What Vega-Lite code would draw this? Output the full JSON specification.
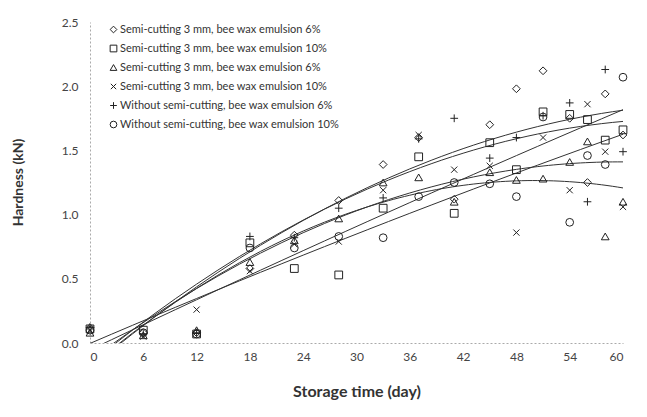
{
  "$schema": "https://vega.github.io/schema/vega-lite/v6.json",
  "width": 533,
  "height": 321,
  "autosize": {"type": "none"},
  "padding": {"left": 90, "top": 22, "right": 24, "bottom": 74},
  "background": "white",
  "config": {
    "view": {"stroke": null},
    "font": "Lato",
    "axis": {"labelFont": "Lato", "titleFont": "Lato", "labelColor": "#444", "titleColor": "#333", "grid": false, "ticks": false, "domainDash": [2, 2], "domainColor": "#aaa"}
  },
  "data": {
    "values": [
      {"day": 0, "series": "A", "hardness": 0.12}, {"day": 6, "series": "A", "hardness": 0.08}, {"day": 12, "series": "A", "hardness": 0.08}, {"day": 18, "series": "A", "hardness": 0.58}, {"day": 23, "series": "A", "hardness": 0.84}, {"day": 28, "series": "A", "hardness": 1.11}, {"day": 33, "series": "A", "hardness": 1.39}, {"day": 37, "series": "A", "hardness": 1.6}, {"day": 41, "series": "A", "hardness": 1.12}, {"day": 45, "series": "A", "hardness": 1.7}, {"day": 48, "series": "A", "hardness": 1.98}, {"day": 51, "series": "A", "hardness": 2.12}, {"day": 54, "series": "A", "hardness": 1.75}, {"day": 56, "series": "A", "hardness": 1.25}, {"day": 58, "series": "A", "hardness": 1.94}, {"day": 60, "series": "A", "hardness": 1.62},
      {"day": 0, "series": "B", "hardness": 0.11}, {"day": 6, "series": "B", "hardness": 0.1}, {"day": 12, "series": "B", "hardness": 0.07}, {"day": 18, "series": "B", "hardness": 0.78}, {"day": 23, "series": "B", "hardness": 0.58}, {"day": 28, "series": "B", "hardness": 0.53}, {"day": 33, "series": "B", "hardness": 1.05}, {"day": 37, "series": "B", "hardness": 1.45}, {"day": 41, "series": "B", "hardness": 1.01}, {"day": 45, "series": "B", "hardness": 1.56}, {"day": 48, "series": "B", "hardness": 1.35}, {"day": 51, "series": "B", "hardness": 1.8}, {"day": 54, "series": "B", "hardness": 1.78}, {"day": 56, "series": "B", "hardness": 1.74}, {"day": 58, "series": "B", "hardness": 1.58}, {"day": 60, "series": "B", "hardness": 1.66},
      {"day": 0, "series": "C", "hardness": 0.08}, {"day": 6, "series": "C", "hardness": 0.06}, {"day": 12, "series": "C", "hardness": 0.1}, {"day": 18, "series": "C", "hardness": 0.63}, {"day": 23, "series": "C", "hardness": 0.8}, {"day": 28, "series": "C", "hardness": 0.97}, {"day": 33, "series": "C", "hardness": 1.25}, {"day": 37, "series": "C", "hardness": 1.29}, {"day": 41, "series": "C", "hardness": 1.1}, {"day": 45, "series": "C", "hardness": 1.33}, {"day": 48, "series": "C", "hardness": 1.27}, {"day": 51, "series": "C", "hardness": 1.28}, {"day": 54, "series": "C", "hardness": 1.41}, {"day": 56, "series": "C", "hardness": 1.57}, {"day": 58, "series": "C", "hardness": 0.83}, {"day": 60, "series": "C", "hardness": 1.1},
      {"day": 0, "series": "D", "hardness": 0.1}, {"day": 6, "series": "D", "hardness": 0.05}, {"day": 12, "series": "D", "hardness": 0.26}, {"day": 18, "series": "D", "hardness": 0.56}, {"day": 23, "series": "D", "hardness": 0.77}, {"day": 28, "series": "D", "hardness": 0.79}, {"day": 33, "series": "D", "hardness": 1.19}, {"day": 37, "series": "D", "hardness": 1.62}, {"day": 41, "series": "D", "hardness": 1.35}, {"day": 45, "series": "D", "hardness": 1.38}, {"day": 48, "series": "D", "hardness": 0.86}, {"day": 51, "series": "D", "hardness": 1.6}, {"day": 54, "series": "D", "hardness": 1.19}, {"day": 56, "series": "D", "hardness": 1.86}, {"day": 58, "series": "D", "hardness": 1.49}, {"day": 60, "series": "D", "hardness": 1.06},
      {"day": 0, "series": "E", "hardness": 0.12}, {"day": 6, "series": "E", "hardness": 0.07}, {"day": 12, "series": "E", "hardness": 0.08}, {"day": 18, "series": "E", "hardness": 0.83}, {"day": 23, "series": "E", "hardness": 0.82}, {"day": 28, "series": "E", "hardness": 1.05}, {"day": 33, "series": "E", "hardness": 1.13}, {"day": 37, "series": "E", "hardness": 1.59}, {"day": 41, "series": "E", "hardness": 1.75}, {"day": 45, "series": "E", "hardness": 1.44}, {"day": 48, "series": "E", "hardness": 1.6}, {"day": 51, "series": "E", "hardness": 1.77}, {"day": 54, "series": "E", "hardness": 1.87}, {"day": 56, "series": "E", "hardness": 1.1}, {"day": 58, "series": "E", "hardness": 2.13}, {"day": 60, "series": "E", "hardness": 1.49},
      {"day": 0, "series": "F", "hardness": 0.1}, {"day": 6, "series": "F", "hardness": 0.08}, {"day": 12, "series": "F", "hardness": 0.07}, {"day": 18, "series": "F", "hardness": 0.74}, {"day": 23, "series": "F", "hardness": 0.74}, {"day": 28, "series": "F", "hardness": 0.83}, {"day": 33, "series": "F", "hardness": 0.82}, {"day": 37, "series": "F", "hardness": 1.14}, {"day": 41, "series": "F", "hardness": 1.25}, {"day": 45, "series": "F", "hardness": 1.24}, {"day": 48, "series": "F", "hardness": 1.14}, {"day": 51, "series": "F", "hardness": 1.76}, {"day": 54, "series": "F", "hardness": 0.94}, {"day": 56, "series": "F", "hardness": 1.46}, {"day": 58, "series": "F", "hardness": 1.39}, {"day": 60, "series": "F", "hardness": 2.07}
    ]
  },
  "layer": [
    {
      "transform": [
        {"regression": "hardness", "on": "day", "groupby": ["series"], "method": "poly", "order": 2, "extent": [0, 60]}
      ],
      "mark": {"type": "line", "clip": true, "color": "#333", "strokeWidth": 1},
      "encoding": {
        "x": {"field": "day", "type": "quantitative"},
        "y": {"field": "hardness", "type": "quantitative"},
        "detail": {"field": "series"}
      }
    },
    {
      "mark": {"type": "point", "filled": false, "color": "#222", "strokeWidth": 1, "size": 60, "opacity": 1},
      "encoding": {
        "x": {
          "field": "day", "type": "quantitative",
          "scale": {"domain": [0, 60], "nice": false},
          "axis": {"values": [0, 6, 12, 18, 24, 30, 36, 42, 48, 54, 60], "title": "Storage time (day)", "labelFontSize": 12, "labelPadding": 8, "titleFontSize": 16, "titleFontWeight": "bold", "titlePadding": 21}
        },
        "y": {
          "field": "hardness", "type": "quantitative",
          "scale": {"domain": [0, 2.5], "nice": false},
          "axis": {"values": [0, 0.5, 1, 1.5, 2, 2.5], "format": ".1f", "title": "Hardness (kN)", "labelFontSize": 12, "labelPadding": 12, "titleFontSize": 14, "titleFontWeight": "bold", "titleX": -65, "titleY": 160}
        },
        "shape": {
          "field": "series", "type": "nominal",
          "scale": {
            "domain": ["A", "B", "C", "D", "E", "F"],
            "range": ["diamond", "square", "triangle-up", "M-0.8,-0.8L0.8,0.8M-0.8,0.8L0.8,-0.8", "M-1,0L1,0M0,-1L0,1", "circle"]
          },
          "legend": {
            "title": null,
            "orient": "none",
            "legendX": 18,
            "legendY": 2,
            "labelFont": "Lato",
            "labelFontSize": 11,
            "labelColor": "#333",
            "labelLimit": 0,
            "symbolSize": 45,
            "symbolStrokeWidth": 1,
            "symbolStrokeColor": "#222",
            "symbolFillColor": "transparent",
            "labelOffset": 1,
            "rowPadding": 7,
            "labelExpr": "datum.label == 'A' ? 'Semi-cutting 3 mm, bee wax emulsion 6%' : datum.label == 'B' ? 'Semi-cutting 3 mm, bee wax emulsion 10%' : datum.label == 'C' ? 'Semi-cutting 3 mm, bee wax emulsion 6%' : datum.label == 'D' ? 'Semi-cutting 3 mm, bee wax emulsion 10%' : datum.label == 'E' ? 'Without semi-cutting, bee wax emulsion 6%' : 'Without semi-cutting, bee wax emulsion 10%'"
          }
        }
      }
    }
  ]
}
